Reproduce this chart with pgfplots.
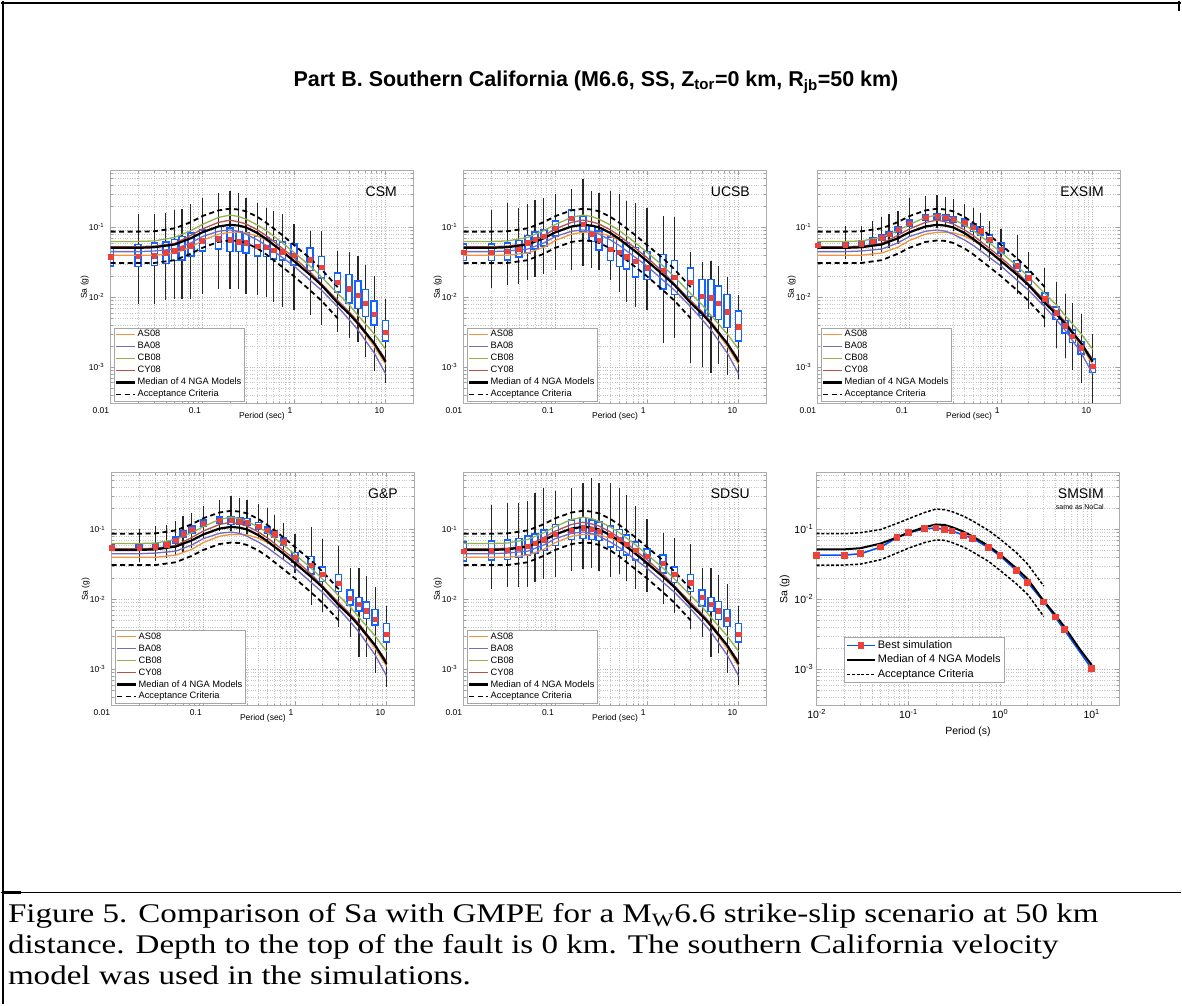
\documentclass[border=0pt]{standalone}
\usepackage{fontspec}
\setmainfont{Liberation Sans}
\newfontfamily\capfont[FakeStretch=1.12]{Liberation Serif}
\usepackage{pgfplots}
\usepackage{pgfplotstable}
\pgfplotsset{compat=1.18}

\definecolor{cAS}{RGB}{242,150,62}
\definecolor{cBA}{RGB}{118,108,190}
\definecolor{cCB}{RGB}{150,176,78}
\definecolor{cCY}{RGB}{182,82,76}
\definecolor{bxblue}{RGB}{22,98,255}
\definecolor{mdred}{RGB}{236,66,56}
\definecolor{lnblue}{RGB}{0,80,255}

% NGA model curves (same in the five simulation panels)
\pgfplotstableread{
T      as      ba      cb      cy      med     up      lo
0.01   0.040   0.045   0.063   0.053   0.051   0.087   0.031
0.02   0.040   0.045   0.063   0.053   0.051   0.087   0.031
0.03   0.040   0.046   0.064   0.054   0.052   0.088   0.031
0.05   0.043   0.049   0.072   0.059   0.057   0.097   0.034
0.075  0.052   0.060   0.090   0.077   0.070   0.119   0.042
0.1    0.065   0.074   0.110   0.095   0.085   0.145   0.051
0.15   0.080   0.088   0.139   0.118   0.103   0.175   0.062
0.2    0.085   0.092   0.150   0.127   0.109   0.185   0.065
0.25   0.085   0.088   0.143   0.120   0.106   0.180   0.064
0.3    0.084   0.080   0.131   0.112   0.100   0.170   0.060
0.4    0.075   0.066   0.108   0.092   0.083   0.141   0.050
0.5    0.065   0.055   0.090   0.076   0.068   0.116   0.041
0.75   0.046   0.037   0.060   0.050   0.045   0.077   0.027
1      0.034   0.028   0.044   0.037   0.033   0.056   0.020
1.5    0.021   0.0175  0.028   0.023   0.021   0.036   0.0126
2      0.0150  0.0126  0.0195  0.0156  0.0149  0.025   0.0089
3      0.0086  0.0073  0.0113  0.0090  0.0083  0.014   0.0050
4      0.0060  0.0048  0.0078  0.0062  0.0058  nan     nan
5      0.0041  0.0034  0.0055  0.0045  0.0042  nan     nan
7.5    0.0020  0.0016  0.0030  0.0022  0.0022  nan     nan
10     0.0011  0.0008  0.0018  0.0013  0.0012  nan     nan
}\nga

% box plots: T, lower whisker, q1, median, q3, upper whisker
\pgfplotstableread{
T     lo      q1      md      q3      hi
0.01  0.0275  0.0275  0.038   0.055   0.055
0.02  0.0081  0.027   0.0387  0.058   0.155
0.03  0.0081  0.0279  0.0396  0.0612  0.155
0.04  0.0091  0.0295  0.0432  0.0633  0.163
0.05  0.0096  0.0329  0.0466  0.0683  0.176
0.06  0.0096  0.0336  0.0508  0.0762  0.182
0.075 0.0096  0.0383  0.0549  0.0849  0.215
0.1   0.0113  0.0451  0.0646  0.0947  0.261
0.15  0.0133  0.0476  0.069   0.106   0.315
0.2   0.0133  0.0441  0.0668  0.100   0.332
0.25  0.013   0.0441  0.0626  0.0877  0.315
0.3   0.0113  0.0418  0.0605  0.0849  0.267
0.4   0.0107  0.0383  0.0543  0.0762  0.226
0.5   0.0101  0.0375  0.052   0.0721  0.188
0.6   0.0086  0.0343  0.0476  0.0661  0.173
0.75  0.0073  0.0336  0.0451  0.0633  0.155
1     0.0065  0.0285  0.0404  0.0593  0.111
1.5   0.0055  0.0237  0.0343  0.052   0.0897
2     0.0040  0.0184  0.027   0.0396  0.0897
3     0.0032  0.0116  0.0165  0.0229  0.0466
4     0.0026  0.0081  0.0133  0.0217  0.0441
5     0.0023  0.0067  0.0107  0.0175  0.0396
6     0.0014  0.0052  0.0083  0.0133  0.0291
7.5   0.00087 0.0039  0.0057  0.0091  0.0199
10    0.00059 0.0023  0.0032  0.0048  0.0096
}\csm

\pgfplotstableread{
T     lo      q1      md      q3      hi
0.01  0.0329  0.0329  0.0441  0.0593  0.0593
0.02  0.0137  0.0329  0.0441  0.0593  0.176
0.03  0.0148  0.0336  0.0456  0.0612  0.226
0.04  0.0156  0.0366  0.0487  0.0661  0.192
0.05  0.0175  0.0418  0.0605  0.0787  0.215
0.06  0.0195  0.0476  0.0683  0.0877  0.245
0.075 0.0217  0.0531  0.0745  0.0947  0.261
0.1   0.0242  0.0737  0.0978  0.127   0.298
0.15  0.0242  0.100   0.136   0.182   0.351
0.2   0.0285  0.0849  0.111   0.147   0.486
0.25  0.0264  0.0612  0.0804  0.106   0.332
0.3   0.0242  0.0466  0.0661  0.0916  0.315
0.4   0.0175  0.0329  0.0492  0.0745  0.332
0.5   0.0119  0.027   0.0441  0.0683  0.298
0.6   0.0086  0.0247  0.0383  0.0612  0.239
0.75  0.0073  0.0191  0.0329  0.0531  0.226
1     0.0065  0.0175  0.0264  0.0466  0.192
1.5   0.0022  0.0129  0.0242  0.0418  0.147
2     0.0026  0.0107  0.0195  0.0343  0.139
3     0.00114 0.0101  0.0165  0.027   0.0441
4     0.00102 0.0054  0.0103  0.0184  0.0318
5     0.00082 0.0052  0.0099  0.0184  0.0336
6     0.0011  0.0047  0.0083  0.0148  0.0285
7.5   0.00078 0.0036  0.0062  0.0113  0.0195
10    0.00068 0.0023  0.0038  0.0065  0.0107
}\ucsb

\pgfplotstableread{
T     lo      q1      md      q3      hi
0.01  0.0492  0.0492  0.0555  0.0626  0.0626
0.02  0.0355  0.0508  0.0567  0.0646  0.106
0.03  0.0336  0.052   0.0586  0.0668  0.106
0.04  0.0396  0.0567  0.0633  0.0721  0.125
0.05  0.0441  0.0633  0.0713  0.0804  0.139
0.06  0.0508  0.0721  0.0804  0.0897  0.158
0.075 0.058   0.0822  0.0947  0.106   0.173
0.1   0.0762  0.102   0.115   0.131   0.261
0.15  0.0947  0.122   0.139   0.155   0.282
0.2   0.0978  0.127   0.145   0.163   0.291
0.25  0.100   0.122   0.139   0.155   0.273
0.3   0.0897  0.114   0.131   0.147   0.254
0.4   0.0721  0.102   0.118   0.136   0.215
0.5   0.0612  0.0849  0.100   0.114   0.192
0.6   0.0466  0.0762  0.0897  0.106   0.163
0.75  0.0336  0.0593  0.0683  0.0804  0.125
1     0.0242  0.0418  0.0492  0.0612  0.0947
1.5   0.0113  0.0229  0.0285  0.0343  0.0787
2     0.0069  0.0148  0.0191  0.0237  0.0441
3     0.0038  0.0077  0.0096  0.0119  0.0264
4     0.00186 0.0047  0.0060  0.0074  0.0165
5     0.00134 0.0030  0.0039  0.0048  0.0113
6     0.00092 0.0022  0.0028  0.0035  0.0083
7.5   0.00059 0.0015  0.0019  0.0024  0.0057
10    0.00031 0.00082 0.00104 0.00134 0.0030
}\exsim

\pgfplotstableread{
T     lo      q1      md      q3      hi
0.01  0.0492  0.0492  0.0549  0.0626  0.0626
0.02  0.0347  0.0492  0.0549  0.0626  0.1033
0.03  0.0355  0.0503  0.0567  0.0646  0.111
0.04  0.0387  0.0537  0.0605  0.0683  0.115
0.05  0.0418  0.0612  0.0705  0.0804  0.134
0.06  0.0481  0.0745  0.0868  0.0978  0.155
0.075 0.0549  0.0868  0.100   0.115   0.173
0.1   0.0721  0.108   0.122   0.139   0.215
0.15  0.0947  0.120   0.136   0.155   0.267
0.2   0.0947  0.115   0.136   0.155   0.298
0.25  0.0897  0.115   0.131   0.150   0.282
0.3   0.0849  0.111   0.128   0.147   0.267
0.4   0.0721  0.0968  0.111   0.128   0.231
0.5   0.0612  0.0849  0.0978  0.111   0.203
0.6   0.0492  0.0745  0.0868  0.0978  0.163
0.75  0.0375  0.058   0.0668  0.0778  0.125
1     0.0242  0.0336  0.0404  0.0481  0.0849
1.5   0.0084  0.0224  0.0311  0.0418  0.108
2     0.0065  0.0175  0.0229  0.030   0.0721
3     0.0040  0.0126  0.0171  0.0234  0.058
4     0.0029  0.0081  0.0104  0.0140  0.0285
5     0.0015  0.0067  0.0086  0.0110  0.0285
6     0.0015  0.0052  0.0069  0.0094  0.0217
7.5   0.00089 0.0042  0.0052  0.0073  0.0148
10    0.00056 0.0024  0.0032  0.0046  0.0081
}\gpdata

\pgfplotstableread{
T     lo      q1      md      q3      hi
0.01  0.0347  0.0347  0.0492  0.0683  0.0683
0.02  0.0140  0.0355  0.0503  0.0698  0.226
0.03  0.0148  0.0362  0.0508  0.0721  0.239
0.04  0.0151  0.0387  0.0537  0.0762  0.239
0.05  0.0151  0.0418  0.058   0.0830  0.254
0.06  0.0175  0.0441  0.064   0.0887  0.332
0.075 0.0195  0.0492  0.0713  0.100   0.389
0.1   0.0206  0.058   0.0849  0.120   0.351
0.15  0.0256  0.0698  0.0978  0.141   0.389
0.2   0.027   0.0721  0.106   0.151   0.46
0.25  0.0279  0.0698  0.100   0.139   0.553
0.3   0.0256  0.0683  0.0947  0.131   0.46
0.4   0.0206  0.0549  0.0822  0.115   0.46
0.5   0.0229  0.0492  0.0721  0.103   0.389
0.6   0.0184  0.0418  0.0612  0.0849  0.315
0.75  0.0140  0.0355  0.0503  0.0683  0.215
1     0.0126  0.0325  0.0418  0.0537  0.139
1.5   0.0086  0.0234  0.0329  0.0441  0.0897
2     0.0063  0.0169  0.0229  0.030   0.0762
3     0.0038  0.0126  0.0173  0.0234  0.0612
4     0.0029  0.0079  0.0107  0.0140  0.0285
5     0.0015  0.0065  0.0086  0.0110  0.0285
6     0.0017  0.0050  0.0069  0.0096  0.0224
7.5   0.00089 0.0040  0.0052  0.0074  0.0165
10    0.00059 0.0024  0.0032  0.0046  0.0081
}\sdsu

% SMSIM panel: NGA median with acceptance band, best simulation
\pgfplotstableread{
T      med     up      lo
0.01   0.052   0.087   0.031
0.02   0.052   0.087   0.031
0.03   0.054   0.090   0.032
0.05   0.063   0.100   0.037
0.075  0.077   0.122   0.046
0.1    0.090   0.142   0.054
0.15   0.108   0.175   0.065
0.2    0.118   0.196   0.071
0.25   0.116   0.192   0.070
0.3    0.108   0.180   0.065
0.4    0.093   0.155   0.056
0.5    0.080   0.133   0.048
0.75   0.058   0.097   0.035
1      0.044   0.073   0.026
1.5    0.028   0.047   0.0168
2      0.0195  0.032   0.0118
3      0.0095  0.0155  0.0057
4      0.0060  nan     nan
5      0.0041  nan     nan
7.5    0.0019  nan     nan
10     0.00115 nan     nan
}\smmed

\pgfplotstableread{
T     sa
0.01  0.043
0.02  0.043
0.03  0.045
0.05  0.056
0.075 0.076
0.1   0.090
0.15  0.102
0.2   0.105
0.25  0.100
0.3   0.095
0.4   0.083
0.5   0.075
0.75  0.055
1     0.042
1.5   0.026
2     0.0176
3     0.0092
4     0.0056
5     0.0037
10    0.00102
}\smbest

% one of the five simulation panels, options written out in full
\newcommand\simaxis[1]{%
\begin{axis}[at={#1}, anchor=south west,
    scale only axis, width=303pt, height=233.5pt,
    xmode=log, ymode=log,
    xmin=0.01, xmax=20, ymin=3e-4, ymax=0.65,
    xtick={0.01,0.1,1,10}, xticklabels={0.01,0.1,1,10},
    minor xtick={0.02,0.03,0.04,0.05,0.06,0.07,0.08,0.09,0.2,0.3,0.4,0.5,0.6,0.7,0.8,0.9,2,3,4,5,6,7,8,9},
    ytick={0.001,0.01,0.1},
    yticklabels={10\textsuperscript{-3},10\textsuperscript{-2},10\textsuperscript{-1}},
    minor ytick={0.0004,0.0005,0.0006,0.0007,0.0008,0.0009,0.002,0.003,0.004,0.005,0.006,0.007,0.008,0.009,0.02,0.03,0.04,0.05,0.06,0.07,0.08,0.09,0.2,0.3,0.4,0.5,0.6},
    grid=both,
    major grid style={gray!55, dotted, line width=0.6pt},
    minor grid style={gray!45, dotted, line width=0.6pt},
    axis line style={gray!65, line width=0.8pt},
    tick style={gray!75, line width=0.6pt},
    tick align=inside, major tick length=4pt, minor tick length=2pt,
    tick label style={font=\fontsize{8.5}{10}\selectfont},
    xticklabel style={anchor=north east, xshift=2pt},
    yticklabel style={xshift=-3pt},
    xlabel={Period (sec)}, ylabel={Sa (g)},
    label style={font=\fontsize{8.5}{10}\selectfont},
    xlabel style={at={(axis description cs:0.5,0)}, anchor=north, yshift=-8.5pt, inner sep=0pt},
    ylabel style={at={(axis description cs:-0.086,0.5)}, anchor=center},
    legend cell align=left,
    legend style={at={(rel axis cs:0.01,0.011)}, anchor=south west,
      draw=gray!70, fill=white, line width=0.6pt,
      font=\fontsize{9.3}{10}\selectfont, inner xsep=1pt, inner ysep=0.5pt, row sep=0pt,
      nodes={text height=7pt, text depth=2pt, inner sep=1.5pt}},
    legend image code/.code={\draw[##1] (0pt,0pt) -- (19pt,0pt);},
  ]%
}

% whisker, blue box and white inside, one period at a time
\newcommand\boxplots[1]{%
  \pgfplotstablegetrowsof{#1}%
  \pgfmathtruncatemacro\nrows{\pgfplotsretval-1}%
  \pgfplotsforeachungrouped \i in {0,...,\nrows}{%
    \pgfplotstablegetelem{\i}{T}\of{#1}\let\bT\pgfplotsretval
    \pgfplotstablegetelem{\i}{lo}\of{#1}\let\bLo\pgfplotsretval
    \pgfplotstablegetelem{\i}{q1}\of{#1}\let\bQa\pgfplotsretval
    \pgfplotstablegetelem{\i}{q3}\of{#1}\let\bQc\pgfplotsretval
    \pgfplotstablegetelem{\i}{hi}\of{#1}\let\bHi\pgfplotsretval
    \edef\doplot{%
      \noexpand\addplot[forget plot, draw=black!85, line width=1.2pt] coordinates {(\bT,\bLo) (\bT,\bHi)};
      \noexpand\addplot[forget plot, draw=bxblue, line width=7.5pt] coordinates {(\bT,\bQa) (\bT,\bQc)};
      \noexpand\addplot[forget plot, draw=white, line width=4.5pt, shorten <=1.5pt, shorten >=1.5pt] coordinates {(\bT,\bQa) (\bT,\bQc)};
    }\doplot
  }%
}
\newcommand\ngacurves{%
  \addplot[cAS, line width=1.3pt] table[x=T, y=as] {\nga}; \addlegendentry{AS08}
  \addplot[cBA, line width=1.3pt] table[x=T, y=ba] {\nga}; \addlegendentry{BA08}
  \addplot[cCB, line width=1.3pt] table[x=T, y=cb] {\nga}; \addlegendentry{CB08}
  \addplot[cCY, line width=1.3pt] table[x=T, y=cy] {\nga}; \addlegendentry{CY08}
  \addplot[black, line width=2.2pt] table[x=T, y=med] {\nga}; \addlegendentry{Median of 4 NGA Models}
  \addplot[black, line width=1.8pt, dash pattern=on 5pt off 3.5pt] table[x=T, y=up] {\nga}; \addlegendentry{Acceptance Criteria}
  \addplot[forget plot, black, line width=1.8pt, dash pattern=on 5pt off 3.5pt] table[x=T, y=lo] {\nga};
}
\newcommand\medmarks[1]{%
  \addplot[forget plot, only marks, mark=square*, mark size=2.2pt, mark options={draw=mdred, fill=mdred}]
    table[x=T, y=md] {#1};
}
\newcommand\paneltitle[1]{%
  \node[anchor=base east, font=\fontsize{14}{16}\selectfont, xshift=-13pt, yshift=-26pt] at (rel axis cs:1,1) {#1};
}

\begin{document}
\begin{tikzpicture}
\fill[white] (0pt,0pt) rectangle (1182pt,-1005pt);
\draw[line width=1.6pt] (0pt,-2pt) -- (1182pt,-2pt);
\draw[line width=1.6pt] (2.5pt,0pt) -- (2.5pt,-1005pt);
\draw[line width=1.6pt] (0pt,-893pt) -- (1182pt,-893pt);
\draw[line width=2.6pt] (2.5pt,-893pt) -- (20pt,-893pt);
\draw[line width=1.6pt] (1180pt,0pt) -- (1180pt,-10pt);

\node[anchor=base, font=\bfseries\fontsize{21.5}{24}\selectfont] at (596pt,-86pt)
  {Part B. Southern California (M6.6, SS, Z\textsubscript{tor}=0 km, R\textsubscript{jb}=50 km)};

\simaxis{(110pt,-403.5pt)}
\boxplots{\csm}
\ngacurves
\medmarks{\csm}
\paneltitle{CSM}
\end{axis}

\simaxis{(463.5pt,-403.5pt)}
\boxplots{\ucsb}
\ngacurves
\medmarks{\ucsb}
\paneltitle{UCSB}
\end{axis}

\simaxis{(818pt,-403.5pt)}
\boxplots{\exsim}
\ngacurves
\medmarks{\exsim}
\paneltitle{EXSIM}
\end{axis}

\simaxis{(111pt,-706pt)}
\boxplots{\gpdata}
\ngacurves
\medmarks{\gpdata}
\paneltitle{G\&P}
\end{axis}

\simaxis{(463.5pt,-706pt)}
\boxplots{\sdsu}
\ngacurves
\medmarks{\sdsu}
\paneltitle{SDSU}
\end{axis}

\begin{axis}[at={(817pt,-706pt)}, anchor=south west,
    scale only axis, width=303pt, height=233.5pt,
    xmode=log, ymode=log,
    xmin=0.01, xmax=20, ymin=3e-4, ymax=0.65,
    xtick={0.01,0.1,1,10},
    xticklabels={10\textsuperscript{-2},10\textsuperscript{-1},10\textsuperscript{0},10\textsuperscript{1}},
    minor xtick={0.02,0.03,0.04,0.05,0.06,0.07,0.08,0.09,0.2,0.3,0.4,0.5,0.6,0.7,0.8,0.9,2,3,4,5,6,7,8,9},
    ytick={0.001,0.01,0.1},
    yticklabels={10\textsuperscript{-3},10\textsuperscript{-2},10\textsuperscript{-1}},
    minor ytick={0.0004,0.0005,0.0006,0.0007,0.0008,0.0009,0.002,0.003,0.004,0.005,0.006,0.007,0.008,0.009,0.02,0.03,0.04,0.05,0.06,0.07,0.08,0.09,0.2,0.3,0.4,0.5,0.6},
    grid=both,
    major grid style={gray!55, dotted, line width=0.6pt},
    minor grid style={gray!45, dotted, line width=0.6pt},
    axis line style={gray!65, line width=0.8pt},
    tick style={gray!75, line width=0.6pt},
    tick align=inside, major tick length=4pt, minor tick length=2pt,
    tick label style={font=\fontsize{10.5}{12}\selectfont},
    xlabel={Period (s)}, ylabel={Sa (g)},
    label style={font=\fontsize{10.5}{12}\selectfont},
    xlabel style={at={(axis description cs:0.5,0)}, anchor=north, yshift=-21pt, inner sep=0pt},
    ylabel style={at={(axis description cs:-0.106,0.5)}, anchor=center},
    legend cell align=left,
    legend style={at={(rel axis cs:0.089,0.0985)}, anchor=south west,
      draw=gray!70, fill=white, line width=0.6pt,
      font=\fontsize{11}{12}\selectfont, inner xsep=2pt, inner ysep=1pt, row sep=0pt,
      nodes={text height=8pt, text depth=2.5pt, inner sep=2pt}},
    legend image code/.code={\draw[mark repeat=2, mark phase=2, #1] plot coordinates {(0pt,0pt) (14pt,0pt) (28pt,0pt)};},
  ]
\addplot[lnblue, line width=1.6pt, mark=square*, mark size=2.6pt, mark options={draw=mdred, fill=mdred}]
  table[x=T, y=sa] {\smbest}; \addlegendentry{Best simulation}
\addplot[black, line width=2pt] table[x=T, y=med] {\smmed}; \addlegendentry{Median of 4 NGA Models}
\addplot[black, line width=1.5pt, dash pattern=on 3pt off 1.8pt] table[x=T, y=up] {\smmed}; \addlegendentry{Acceptance Criteria}
\addplot[forget plot, black, line width=1.5pt, dash pattern=on 3pt off 1.8pt] table[x=T, y=lo] {\smmed};
\addplot[forget plot, only marks, mark=square*, mark size=2.6pt, mark options={draw=mdred, fill=mdred}]
  table[x=T, y=sa] {\smbest};
\node[anchor=base east, font=\fontsize{14}{16}\selectfont, xshift=-12pt, yshift=-26pt] at (rel axis cs:1,1) {SMSIM};
\node[anchor=base east, font=\fontsize{7}{8}\selectfont, xshift=-12pt, yshift=-37pt] at (rel axis cs:1,1) {same as NoCal};
\end{axis}

\begin{scope}[font=\capfont\fontsize{27}{32}\selectfont]
\node[anchor=base west, inner sep=0pt, xscale=1.095, transform shape] at (7pt,-923pt)
  {Figure 5. Comparison of Sa with GMPE for a M\textsubscript{W}6.6 strike-slip scenario at 50 km};
\node[anchor=base west, inner sep=0pt, xscale=1.095, transform shape] at (7pt,-954pt)
  {distance. Depth to the top of the fault is 0 km. The southern California velocity};
\node[anchor=base west, inner sep=0pt, xscale=1.095, transform shape] at (7pt,-985pt)
  {model was used in the simulations.};
\end{scope}
\end{tikzpicture}
\end{document}
